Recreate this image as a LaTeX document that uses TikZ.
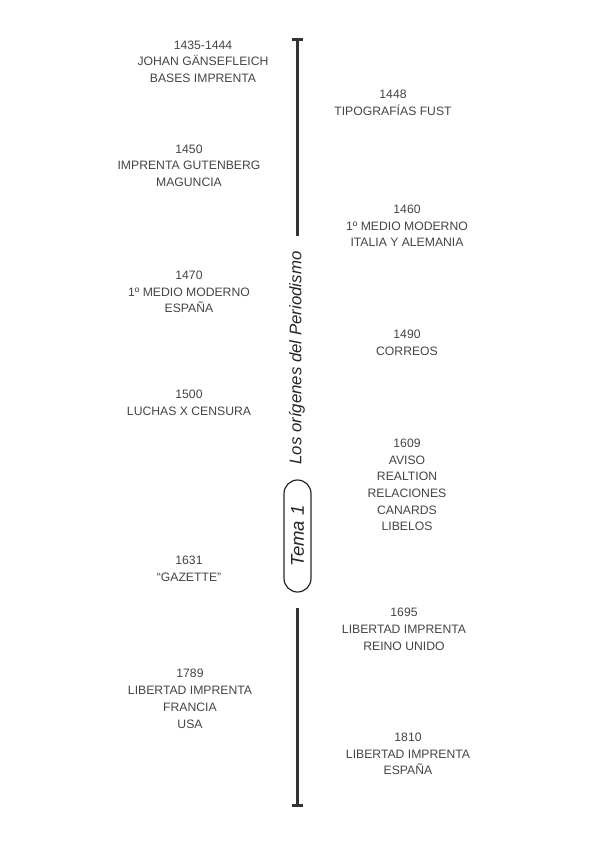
\documentclass[tikz,border=0pt]{standalone}
\usepackage{fontspec}
\setmainfont{Liberation Sans}
\usepackage{xcolor}
\usepackage{tikz}
\usetikzlibrary{arrows.meta, positioning}

\definecolor{texto}{HTML}{444444}
\definecolor{linea}{HTML}{333333}

\begin{document}
\begin{tikzpicture}[
    x=1pt, y=1pt,
    evento/.style={align=center, inner sep=0pt, text=texto,
                   font=\fontsize{12.2}{16.7}\selectfont},
    eje/.style={draw=linea, line width=3pt},
    titulo/.style={rotate=90, inner sep=0pt, text=black!85,
                   font=\fontsize{16.8}{18}\selectfont\itshape},
    tema/.style={rotate=90, draw=black!85, line width=1.2pt, rounded corners=13.5pt,
                 minimum width=112pt, minimum height=27pt, inner sep=0pt,
                 text=black!85, font=\fontsize{18.5}{20}\selectfont\itshape}
  ]
  \useasboundingbox (0,0) rectangle (600,-848);

  % eventos a la izquierda
  \node[evento] (e1435) at (203,-61.7) {1435-1444\\JOHAN GÄNSEFLEICH\\BASES IMPRENTA};
  \node[evento] (e1450) at (189,-165.7) {1450\\IMPRENTA GUTENBERG\\MAGUNCIA};
  \node[evento] (e1470) at (189,-292) {1470\\1º MEDIO MODERNO\\ESPAÑA};
  \node[evento] (e1500) at (189,-402.5) {1500\\LUCHAS X CENSURA};
  \node[evento] (e1631) at (189,-568.5) {1631\\“GAZETTE”};
  \node[evento] (e1789) at (190,-698.8) {1789\\LIBERTAD IMPRENTA\\FRANCIA\\USA};

  % eventos a la derecha
  \node[evento] (e1448) at (393,-103) {1448\\TIPOGRAFÍAS FUST};
  \node[evento] (e1460) at (407,-226) {1460\\1º MEDIO MODERNO\\ITALIA Y ALEMANIA};
  \node[evento] (e1490) at (407,-343) {1490\\CORREOS};
  \node[evento] (e1609) at (407,-485) {1609\\AVISO\\REALTION\\RELACIONES\\CANARDS\\LIBELOS};
  \node[evento] (e1695) at (404,-629.3) {1695\\LIBERTAD IMPRENTA\\REINO UNIDO};
  \node[evento] (e1810) at (408,-754) {1810\\LIBERTAD IMPRENTA\\ESPAÑA};

  % eje central
  \node[titulo] (titulo) at (297,-358) {Los orígenes del Periodismo};
  \node[tema] (tema) at (297.5,-536) {Tema 1};

  \coordinate (ejeA) at (297,-38);
  \coordinate (ejeB) at (297,-236);
  \coordinate (ejeC) at (297,-608);
  \coordinate (ejeD) at (297,-807);

  \draw[eje, {Bar[width=11pt]}-] (ejeA) -- (ejeB);
  \draw[eje, -{Bar[width=11pt]}] (ejeC) -- (ejeD);

\end{tikzpicture}
\end{document}
